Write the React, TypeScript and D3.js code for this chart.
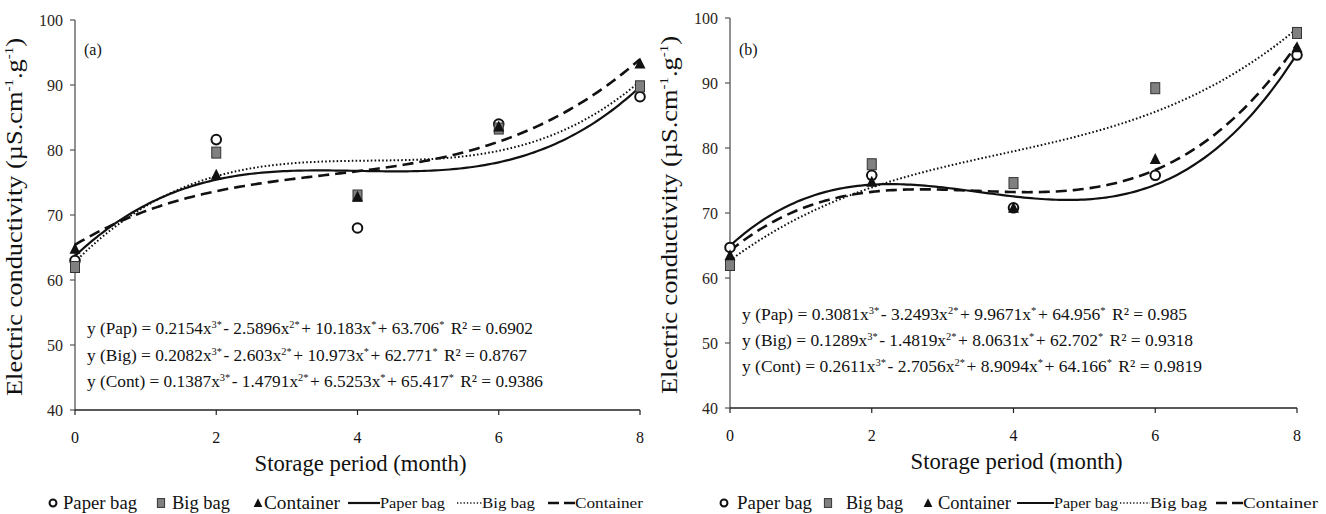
import React from "react";
import * as d3 from "d3";

const months = [0, 2, 4, 6, 8];
const xTicks = [0, 2, 4, 6, 8];
const yTicks = [40, 50, 60, 70, 80, 90, 100];

const paperA = [63.0, 81.6, 68.0, 84.0, 88.2];
const bigA = [62.0, 79.6, 73.0, 83.3, 89.8];
const contA = [64.8, 76.2, 72.8, 83.6, 93.3];

const paperB = [64.7, 75.8, 70.8, 75.8, 94.3];
const bigB = [62.0, 77.5, 74.6, 89.2, 97.7];
const contB = [63.5, 74.8, 70.8, 78.3, 95.5];

// cubic coefficients [x^3, x^2, x, const]
const coefPapA = [0.2154, -2.5896, 10.183, 63.706];
const coefBigA = [0.2082, -2.603, 10.973, 62.771];
const coefContA = [0.1387, -1.4791, 6.5253, 65.417];
const coefPapB = [0.3081, -3.2493, 9.9671, 64.956];
const coefBigB = [0.1289, -1.4819, 8.0631, 62.702];
const coefContB = [0.2611, -2.7056, 8.9094, 64.166];

const r2A = ["0.6902", "0.8767", "0.9386"];
const r2B = ["0.985", "0.9318", "0.9819"];
const eqNames = ["Pap", "Big", "Cont"];
const seriesNames = ["Paper bag", "Big bag", "Container"];

const FONT = "'Liberation Serif', 'Times New Roman', serif";

type PanelCfg = {
  label: string;
  x0: number; x1: number; yTop: number; yBot: number;
  pts: number[][];
  coefs: number[][];
  r2: string[];
  eqX: number; eqY: number[]; eqLen: number[];
  legend: { circ: number; sq: number; tri: number; solid: number[]; dot: number[]; dash: number[]; t: number[]; len: number[] };
};

const panels: PanelCfg[] = [
  {
    label: "(a)", x0: 75, x1: 640, yTop: 20, yBot: 410,
    pts: [paperA, bigA, contA],
    coefs: [coefPapA, coefBigA, coefContA],
    r2: r2A,
    eqX: 87, eqY: [334, 361, 387], eqLen: [446, 440, 456],
    legend: { circ: 53, sq: 161, tri: 258, solid: [348, 380], dot: [457, 482], dash: [548, 575], t: [63, 172, 264, 380, 482, 575], len: [74, 58, 76, 65, 53, 68] },
  },
  {
    label: "(b)", x0: 730, x1: 1297, yTop: 18, yBot: 408,
    pts: [paperB, bigB, contB],
    coefs: [coefPapB, coefBigB, coefContB],
    r2: r2B,
    eqX: 742, eqY: [320, 346, 372], eqLen: [445, 451, 460],
    legend: { circ: 724, sq: 828, tri: 928, solid: [1017, 1054], dot: [1120, 1150], dash: [1216, 1243], t: [737, 846, 938, 1054, 1150, 1243], len: [75, 57, 73, 64, 57, 75] },
  },
];

const poly = (c: number[], x: number) => c[0] * x * x * x + c[1] * x * x + c[2] * x + c[3];
const fmt = (v: number) => String(Math.abs(v));
const lineStyles = [
  { dash: undefined as string | undefined, w: 2.2 },
  { dash: "1.6 2.2", w: 2 },
  { dash: "11 6", w: 2.6 },
];

function Marker({ kind, x, y, s = 1 }: { kind: number; x: number; y: number; s?: number }) {
  if (kind === 0) return <circle cx={x} cy={y} r={4.8 * s} fill="white" stroke="#111" strokeWidth={2} />;
  if (kind === 1) return <rect x={x - 4.5 * s} y={y - 5.5 * s} width={9 * s} height={11 * s} fill="#808080" stroke="#333" strokeWidth={1} />;
  return <path d={`M${x},${y - 6 * s} L${x + 5.5 * s},${y + 5 * s} L${x - 5.5 * s},${y + 5 * s} Z`} fill="#111" />;
}

function Panel({ p }: { p: PanelCfg }) {
  const x = d3.scaleLinear().domain([0, 8]).range([p.x0, p.x1]);
  const y = d3.scaleLinear().domain([40, 100]).range([p.yBot, p.yTop]);
  const xs = d3.range(0, 8.0001, 0.05);
  const cx = (p.x0 + p.x1) / 2;
  const cy = (p.yTop + p.yBot) / 2;
  const L = p.legend;
  const ly = 503;
  const sup = (t: string) => <tspan dy={-6} fontSize={10.5}>{t}</tspan>;
  return (
    <g fontFamily={FONT} fill="#111">
      {/* axes */}
      <line x1={p.x0} x2={p.x0} y1={p.yTop} y2={p.yBot} stroke="#555" strokeWidth={1.3} />
      <line x1={p.x0} x2={p.x1} y1={p.yBot} y2={p.yBot} stroke="#222" strokeWidth={1.3} />
      {yTicks.map((t) => (
        <g key={"y" + t}>
          <line x1={p.x0 - 5} x2={p.x0} y1={y(t)} y2={y(t)} stroke="#555" strokeWidth={1.2} />
          <text x={p.x0 - 12} y={y(t) + 5.5} fontSize={16} textAnchor="end" fill="#2a2418">{t}</text>
        </g>
      ))}
      {xTicks.map((t) => (
        <g key={"x" + t}>
          <line x1={x(t)} x2={x(t)} y1={p.yBot} y2={p.yBot + 5} stroke="#222" strokeWidth={1.2} />
          <text x={x(t)} y={p.yBot + 33} fontSize={16} textAnchor="middle">{t}</text>
        </g>
      ))}
      <text x={p.x0 + 9} y={55} fontSize={16}>{p.label}</text>
      <text transform={`translate(${p.x0 - 53},${cy + 2}) rotate(-90)`} fontSize={23} textAnchor="middle" textLength={358} lengthAdjust="spacingAndGlyphs">
        Electric conductivity (µS.cm<tspan dy={-9} fontSize={13}>-1</tspan><tspan dy={9}>.g</tspan><tspan dy={-9} fontSize={13}>-1</tspan><tspan dy={9}>)</tspan>
      </text>
      <text x={cx + 3} y={p.yBot + 61} fontSize={23} textAnchor="middle" textLength={212} lengthAdjust="spacingAndGlyphs">Storage period (month)</text>

      {/* fitted curves */}
      {p.coefs.map((c, i) => (
        <path key={"c" + i} d={d3.line<number>().x((d) => x(d)).y((d) => y(poly(c, d)))(xs) || ""}
          fill="none" stroke="#111" strokeWidth={lineStyles[i].w} strokeDasharray={lineStyles[i].dash} />
      ))}

      {/* points */}
      {[0, 1, 2].map((k) =>
        months.map((m, j) => <Marker key={`m${k}-${j}`} kind={k} x={x(m)} y={y(p.pts[k][j])} />)
      )}

      {/* equations */}
      {p.coefs.map((c, i) => (
        <text key={"e" + i} x={p.eqX} y={p.eqY[i]} fontSize={17.5} textLength={p.eqLen[i]} lengthAdjust="spacingAndGlyphs">
          <tspan>{`y (${eqNames[i]}) = ${fmt(c[0])}x`}</tspan>
          {sup("3*")}
          <tspan dy={6} dx={1.5}>{`- ${fmt(c[1])}x`}</tspan>
          {sup("2*")}
          <tspan dy={6} dx={1.5}>{`+ ${fmt(c[2])}x`}</tspan>
          {sup("*")}
          <tspan dy={6} dx={1.5}>{`+ ${fmt(c[3])}`}</tspan>
          {sup("*")}
          <tspan dy={6} dx={2}>{` R² = ${p.r2[i]}`}</tspan>
        </text>
      ))}

      {/* legend */}
      <Marker kind={0} x={L.circ} y={ly} s={0.72} />
      <Marker kind={1} x={L.sq} y={ly} s={0.8} />
      <Marker kind={2} x={L.tri} y={ly} s={0.8} />
      {[0, 1, 2].map((i) => (
        <text key={"lt" + i} x={L.t[i]} y={ly + 6} fontSize={18} textLength={L.len[i]} lengthAdjust="spacingAndGlyphs">{seriesNames[i]}</text>
      ))}
      <line x1={L.solid[0]} x2={L.solid[1]} y1={ly} y2={ly} stroke="#111" strokeWidth={2.2} />
      <line x1={L.dot[0]} x2={L.dot[1]} y1={ly} y2={ly} stroke="#111" strokeWidth={1.6} strokeDasharray="1.3 2" />
      <line x1={L.dash[0]} x2={L.dash[1]} y1={ly} y2={ly} stroke="#111" strokeWidth={2.4} strokeDasharray="11 5" />
      {[0, 1, 2].map((i) => (
        <text key={"ll" + i} x={L.t[3 + i]} y={ly + 5} fontSize={15.5} textLength={L.len[3 + i]} lengthAdjust="spacingAndGlyphs">{seriesNames[i]}</text>
      ))}
    </g>
  );
}

export default function App() {
  return (
    <svg width={1326} height={514} style={{ position: "absolute", left: 0, top: 0, background: "white" }}>
      <rect width={1326} height={514} fill="white" />
      {panels.map((p) => <Panel key={p.label} p={p} />)}
    </svg>
  );
}
